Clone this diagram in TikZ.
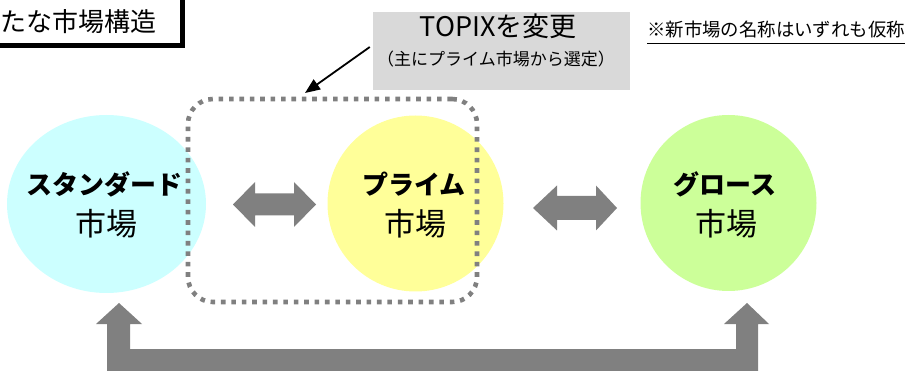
\documentclass[tikz,border=0pt]{standalone}
\usepackage{fontspec}
\setmainfont{Noto Sans CJK JP}
\usetikzlibrary{arrows.meta,shapes.geometric}
\definecolor{arrgray}{HTML}{808080}
\definecolor{stdc}{HTML}{CCFFFF}
\definecolor{primec}{HTML}{FFFF99}
\definecolor{growc}{HTML}{CCFF99}
\definecolor{boxgray}{HTML}{D9D9D9}
\tikzset{
  mkt/.style={ellipse, draw=none, inner sep=0pt},
  mname/.style={inner sep=0pt, font=\fontsize{26}{30}\selectfont\bfseries},
  msub/.style={inner sep=0pt, font=\fontsize{31}{34}\selectfont},
  blockarrow/.style={fill=arrgray, draw=none},
}
\begin{document}
\begin{tikzpicture}[x=1pt,y=-1pt]
\useasboundingbox (0,0) rectangle (910,371);
% title box
\fill[black] (-10,-10) rectangle (185,48);
\node[draw=black, line width=0.8pt, fill=white, inner sep=0pt, minimum width=190pt, minimum height=53pt] (titlebox) at (85,16.5) {};
\node[inner sep=0pt, anchor=west, font=\fontsize{26}{30}\selectfont] (title) at (0,22) {たな市場構造};
% note
\node[inner sep=0pt, anchor=west, font=\fontsize{18.4}{22}\selectfont] (note) at (647,30) {※新市場の名称はいずれも仮称};
\draw[black, line width=0.9pt] ([yshift=-6pt]note.base west) -- ([yshift=-6pt]note.base east);
% TOPIX box
\node[fill=boxgray, draw=none, minimum width=257pt, minimum height=78pt, inner sep=0pt] (topix) at (501.5,51) {};
\node[inner sep=0pt, font=\fontsize{27}{30}\selectfont] (topixa) at (498,26) {TOPIXを変更};
\node[inner sep=0pt, font=\fontsize{17}{20}\selectfont] (topixb) at (496,59) {（主にプライム市場から選定）};
% ellipses
\node[mkt, fill=stdc, minimum width=199pt, minimum height=178pt] (std) at (106.5,204) {};
\node[mkt, fill=primec, minimum width=176pt, minimum height=176pt] (prime) at (415.5,203.5) {};
\node[mkt, fill=growc, minimum width=176pt, minimum height=176pt] (grow) at (728.5,203) {};
% dotted rounded rectangle
\node[draw=arrgray, line width=4.6pt, dash pattern=on 4.6pt off 5.8pt, rounded corners=25pt, minimum width=289pt, minimum height=203pt, inner sep=0pt] (group) at (332.5,200.5) {};
% labels
\node[mname] (stda) at (104.5,184) {スタンダード};
\node[msub] (stdb) at (106,224) {市場};
\node[mname] (primea) at (414,184) {プライム};
\node[msub] (primeb) at (415,224) {市場};
\node[mname] (growa) at (725,184) {グロース};
\node[msub] (growb) at (726,224) {市場};
% pointer arrow
\coordinate (ptip) at (305,93);
\draw[black, line width=1.8pt, -{Triangle[length=15pt,width=12pt]}] ([xshift=-3pt,yshift=4pt]topix.west) -- (ptip);
% double arrows
\fill[blockarrow] (233,204.5) -- (255,182) -- (255,193.5) -- (294,193.5) -- (294,182) -- (316,204.5) -- (294,227) -- (294,215.5) -- (255,215.5) -- (255,227) -- cycle;
\fill[blockarrow] (533,208) -- (557,185.5) -- (557,196) -- (596,196) -- (596,185.5) -- (617,208) -- (596,230.5) -- (596,220) -- (557,220) -- (557,230.5) -- cycle;
% bottom U arrow
\fill[blockarrow] (107,375) -- (107,324) -- (96,324) -- (119,303) -- (142,324) -- (130,324) -- (130,349) -- (736,349) -- (736,324) -- (724,324) -- (747,303) -- (769,324) -- (758,324) -- (758,375) -- cycle;
\end{tikzpicture}
\end{document}
